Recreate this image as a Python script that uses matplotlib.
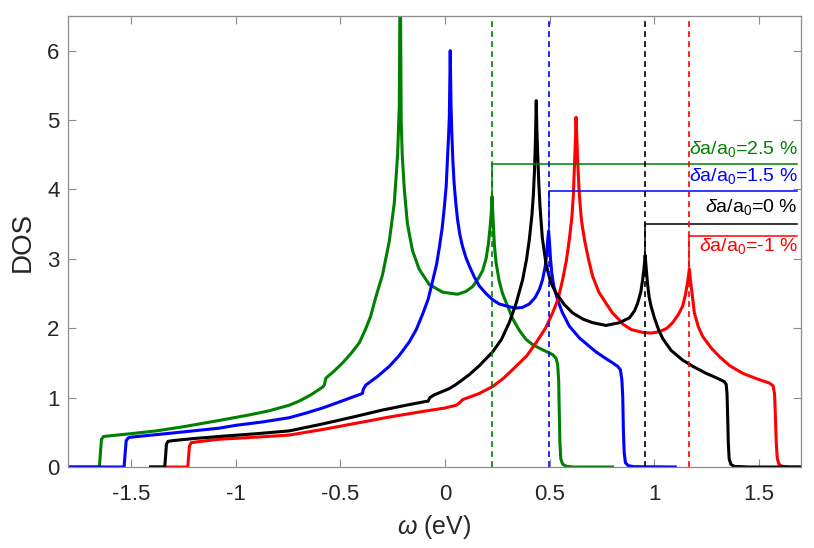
import matplotlib
matplotlib.use("Agg")
import matplotlib.pyplot as plt

plt.rcParams['font.family'] = ['Liberation Sans', 'DejaVu Sans']
plt.rcParams['mathtext.fontset'] = 'custom'
plt.rcParams['mathtext.rm'] = 'Liberation Sans'
plt.rcParams['mathtext.it'] = 'Liberation Sans:italic'

# DOS curves, one per strain value
green_x = [-1.80, -1.650, -1.645, -1.640, -1.630, -1.50, -1.38, -1.25, -1.08, -0.935,
           -0.84, -0.744, -0.696, -0.64, -0.585, -0.576, -0.569, -0.53, -0.489, -0.45,
           -0.409, -0.38, -0.355, -0.330, -0.298, -0.266, -0.242, -0.226, -0.218, -0.2136,
           -0.209, -0.204, -0.194, -0.179, -0.155, -0.123, -0.075, -0.011, 0.060, 0.100,
           0.132, 0.160, 0.180, 0.196, 0.207, 0.216, 0.222, 0.225, 0.228, 0.231,
           0.236, 0.244, 0.259, 0.275, 0.291, 0.323, 0.355, 0.387, 0.42, 0.466,
           0.514, 0.530, 0.538, 0.543, 0.546, 0.549, 0.553, 0.562, 0.58, 0.61, 0.80]
green_y = [0, 0, 0.20, 0.40, 0.44, 0.48, 0.52, 0.58, 0.67, 0.75,
           0.81, 0.89, 0.95, 1.04, 1.15, 1.18, 1.28, 1.38, 1.50, 1.63,
           1.79, 1.98, 2.17, 2.45, 2.77, 3.25, 3.80, 4.50, 5.20, 7.5,
           5.00, 4.50, 4.00, 3.50, 3.12, 2.85, 2.63, 2.52, 2.49, 2.53,
           2.60, 2.72, 2.83, 3.00, 3.20, 3.47, 3.70, 3.90, 3.70, 3.50,
           3.20, 2.95, 2.68, 2.50, 2.38, 2.14, 1.97, 1.84, 1.76, 1.69,
           1.62, 1.57, 1.48, 1.25, 0.77, 0.35, 0.12, 0.04, 0.01, 0, 0]

blue_x = [-1.80, -1.532, -1.527, -1.522, -1.512, -1.50, -1.30, -1.078, -1.00, -0.87,
          -0.744, -0.66, -0.585, -0.52, -0.457, -0.394, -0.390, -0.378, -0.32, -0.266,
          -0.22, -0.171, -0.137, -0.107, -0.080, -0.059, -0.040, -0.027, -0.013, -0.003,
          0.006, 0.012, 0.017, 0.021, 0.0253, 0.029, 0.033, 0.038, 0.044, 0.052,
          0.060, 0.071, 0.084, 0.100, 0.116, 0.140, 0.164, 0.196, 0.228, 0.259,
          0.307, 0.335, 0.370, 0.403, 0.430, 0.451, 0.466, 0.479, 0.486, 0.490,
          0.495, 0.499, 0.504, 0.510, 0.520, 0.538, 0.560, 0.594, 0.642, 0.689,
          0.721, 0.76, 0.801, 0.825, 0.838, 0.845, 0.849, 0.852, 0.856, 0.862,
          0.875, 0.90, 1.10]
blue_y = [0, 0, 0.20, 0.38, 0.42, 0.43, 0.49, 0.56, 0.60, 0.65,
          0.71, 0.78, 0.85, 0.92, 0.99, 1.06, 1.12, 1.18, 1.31, 1.45,
          1.60, 1.80, 1.98, 2.20, 2.42, 2.68, 2.92, 3.16, 3.45, 3.74,
          4.05, 4.44, 4.75, 5.05, 6.00, 5.20, 4.80, 4.40, 4.08, 3.80,
          3.57, 3.35, 3.18, 3.02, 2.90, 2.74, 2.61, 2.50, 2.41, 2.35,
          2.31, 2.29, 2.30, 2.35, 2.44, 2.56, 2.70, 2.89, 3.08, 3.25,
          3.40, 3.25, 3.00, 2.80, 2.60, 2.41, 2.23, 2.03, 1.86, 1.74,
          1.66, 1.58, 1.50, 1.45, 1.40, 1.25, 1.01, 0.53, 0.20, 0.06,
          0.02, 0.005, 0]

black_x = [-1.405, -1.338, -1.334, -1.330, -1.322, -1.30, -1.20, -1.078, -0.90, -0.744,
           -0.585, -0.425, -0.30, -0.186, -0.10, -0.080, -0.072, -0.051, 0.021, 0.053,
           0.116, 0.164, 0.228, 0.27, 0.307, 0.34, 0.371, 0.39, 0.403, 0.415,
           0.422, 0.428, 0.432, 0.436, 0.439, 0.443, 0.448, 0.454, 0.465, 0.483,
           0.505, 0.530, 0.57, 0.610, 0.66, 0.705, 0.769, 0.833, 0.881, 0.905,
           0.920, 0.935, 0.945, 0.951, 0.956, 0.960, 0.967, 0.975, 0.984, 1.00,
           1.02, 1.040, 1.08, 1.135, 1.19, 1.247, 1.30, 1.334, 1.343, 1.347,
           1.350, 1.353, 1.357, 1.365, 1.38, 1.45, 1.70]
black_y = [0, 0, 0.15, 0.33, 0.37, 0.38, 0.41, 0.44, 0.48, 0.52,
           0.62, 0.73, 0.82, 0.89, 0.94, 0.95, 1.00, 1.04, 1.13, 1.19,
           1.33, 1.46, 1.66, 1.84, 2.08, 2.36, 2.70, 3.00, 3.28, 3.62,
           3.91, 4.30, 4.70, 5.28, 4.85, 4.50, 4.10, 3.75, 3.30, 2.92,
           2.66, 2.51, 2.34, 2.22, 2.13, 2.08, 2.04, 2.08, 2.15, 2.25,
           2.36, 2.52, 2.72, 2.88, 3.05, 2.90, 2.65, 2.45, 2.32, 2.15,
           1.98, 1.85, 1.68, 1.54, 1.44, 1.35, 1.28, 1.23, 1.19, 1.05,
           0.72, 0.35, 0.12, 0.04, 0.01, 0, 0]

red_x = [-1.405, -1.228, -1.224, -1.220, -1.212, -1.19, -1.078, -0.90, -0.744, -0.585,
         -0.425, -0.266, -0.107, 0.0, 0.053, 0.068, 0.084, 0.164, 0.228, 0.28,
         0.339, 0.39, 0.435, 0.48, 0.514, 0.54, 0.562, 0.58, 0.594, 0.606,
         0.613, 0.621, 0.624, 0.626, 0.629, 0.632, 0.637, 0.642, 0.652, 0.666,
         0.685, 0.705, 0.735, 0.769, 0.80, 0.833, 0.849, 0.89, 0.944, 0.985,
         1.024, 1.06, 1.087, 1.115, 1.135, 1.148, 1.158, 1.167, 1.172, 1.180,
         1.191, 1.21, 1.231, 1.27, 1.311, 1.36, 1.422, 1.49, 1.549, 1.567,
         1.574, 1.578, 1.582, 1.587, 1.595, 1.61, 1.65, 1.70]
red_y = [0, 0, 0.15, 0.30, 0.35, 0.36, 0.40, 0.43, 0.46, 0.54,
         0.63, 0.72, 0.80, 0.85, 0.89, 0.92, 0.97, 1.06, 1.16, 1.28,
         1.45, 1.60, 1.79, 2.00, 2.22, 2.42, 2.70, 2.98, 3.28, 3.60,
         3.91, 4.54, 4.80, 5.04, 4.80, 4.54, 4.20, 3.91, 3.55, 3.28,
         3.00, 2.75, 2.52, 2.36, 2.22, 2.12, 2.06, 1.98, 1.94, 1.93,
         1.95, 2.00, 2.08, 2.20, 2.32, 2.48, 2.65, 2.85, 2.70, 2.50,
         2.22, 2.02, 1.88, 1.72, 1.59, 1.46, 1.35, 1.27, 1.21, 1.17,
         1.05, 0.72, 0.35, 0.12, 0.04, 0.01, 0, 0]

# second van Hove singularity: position, top of the thick peak, marker level
vhs_x = [0.225, 0.495, 0.956, 1.167]
vhs_top = [3.90, 3.40, 3.05, 2.85]
vhs_level = [4.36, 3.98, 3.50, 3.33]
labels = [r'$\delta$a/a$_0$=2.5 %', r'$\delta$a/a$_0$=1.5 %',
          r'$\delta$a/a$_0$=0 %', r'$\delta$a/a$_0$=-1 %']
label_y = [4.51, 4.12, 3.67, 3.11]
colors = ['#008000', '#0000ff', 'black', '#ff0000']

fig = plt.figure(figsize=(8.14, 5.48), dpi=100)
ax = fig.add_axes([0.0835, 0.1478, 0.9005, 0.823])

curves = [(green_x, green_y), (blue_x, blue_y), (black_x, black_y), (red_x, red_y)]
order = [0, 1, 3, 2]  # black on top of red, as in the picture
for i in order:
    cx, cy = curves[i]
    ax.plot(cx, cy, color=colors[i], lw=2.2, solid_joinstyle='round')

x_end = 1.682
for i in range(4):
    ax.plot([vhs_x[i], vhs_x[i]], [0, 6.5], color=colors[i], lw=1.2,
            linestyle=(0, (3.5, 2.5)))
    ax.plot([vhs_x[i], vhs_x[i], x_end], [vhs_top[i], vhs_level[i], vhs_level[i]],
            color=colors[i], lw=1.1)
    ax.text(1.685, label_y[i], labels[i], color=colors[i], fontsize=14,
            ha='right', va='baseline')

ax.set_xlim(-1.8, 1.7)
ax.set_ylim(0, 6.5)
ax.set_xticks([-1.5, -1, -0.5, 0, 0.5, 1, 1.5])
ax.set_xticklabels(['-1.5', '-1', '-0.5', '0', '0.5', '1', '1.5'])
ax.set_yticks([0, 1, 2, 3, 4, 5, 6])
ax.tick_params(direction='in', top=True, right=True, length=6, width=0.8,
               color='0.55', labelsize=16, labelcolor='#262626')
ax.tick_params(axis='x', pad=12)
ax.tick_params(axis='y', pad=6)
for s in ax.spines.values():
    s.set_color('0.55')
    s.set_linewidth(0.9)

ax.set_xlabel(r'$\omega$ (eV)', fontsize=18, color='#262626', labelpad=6)
ax.set_ylabel('DOS', fontsize=20, color='#262626', labelpad=8)

plt.savefig('out.png', dpi=100)
